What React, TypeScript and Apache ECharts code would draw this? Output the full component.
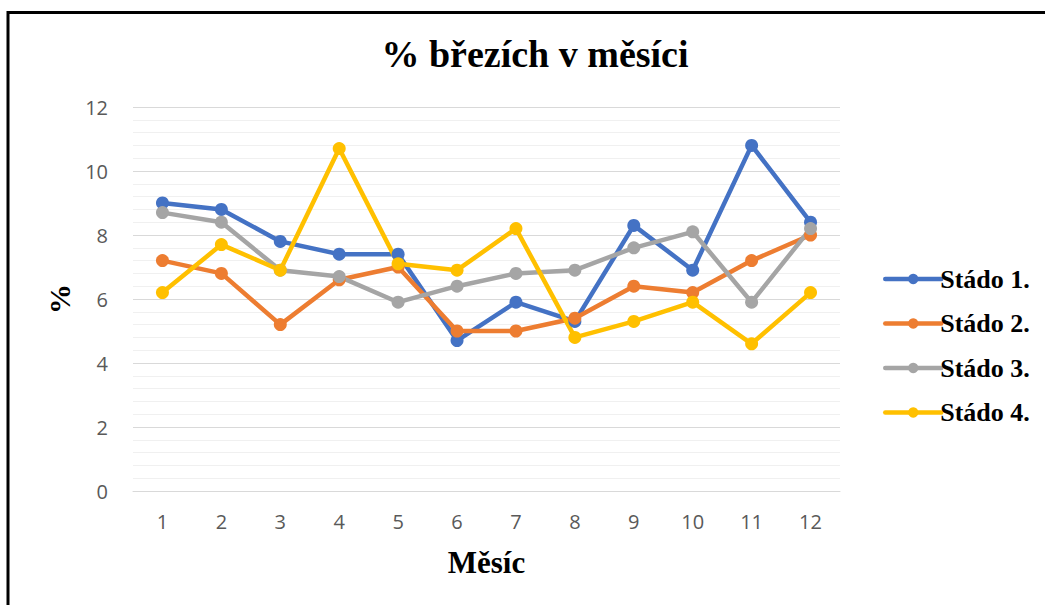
import React, { useEffect, useRef } from "react";
import * as echarts from "echarts";

const months = ["1", "2", "3", "4", "5", "6", "7", "8", "9", "10", "11", "12"];
const stado1 = [9.0, 8.8, 7.8, 7.4, 7.4, 4.7, 5.9, 5.3, 8.3, 6.9, 10.8, 8.4];
const stado2 = [7.2, 6.8, 5.2, 6.6, 7.0, 5.0, 5.0, 5.4, 6.4, 6.2, 7.2, 8.0];
const stado3 = [8.7, 8.4, 6.9, 6.7, 5.9, 6.4, 6.8, 6.9, 7.6, 8.1, 5.9, 8.2];
const stado4 = [6.2, 7.7, 6.9, 10.7, 7.1, 6.9, 8.2, 4.8, 5.3, 5.9, 4.6, 6.2];
const seriesNames = ["Stádo 1.", "Stádo 2.", "Stádo 3.", "Stádo 4."];
const colors = ["#4472c4", "#ed7d31", "#a5a5a5", "#ffc000"];

export default function App() {
  const ref = useRef<HTMLDivElement>(null);
  useEffect(() => {
    if (!ref.current) return;
    const chart = echarts.init(ref.current, null, { renderer: "svg" });
    const datasets = [stado1, stado2, stado3, stado4];
    chart.setOption({
      animation: false,
      backgroundColor: "#ffffff",
      title: {
        text: "% březích v měsíci",
        left: 530,
        textAlign: "center",
        top: 30,
        textStyle: {
          fontFamily: "Liberation Serif",
          fontWeight: "bold",
          fontSize: 38,
          color: "#000",
        },
      },
      legend: {
        orient: "vertical",
        left: 878,
        top: 260,
        itemWidth: 56,
        itemHeight: 13,
        itemGap: 16.5,
        lineStyle: { width: 4.5, cap: "round" },
        textStyle: {
          fontFamily: "Liberation Serif",
          fontWeight: "bold",
          fontSize: 26,
          lineHeight: 28,
          color: "#000",
          padding: [0, 0, 0, -6],
        },
        data: seriesNames,
      },
      grid: { left: 133, right: 205, top: 107, bottom: 114 },
      xAxis: {
        type: "category",
        data: months,
        boundaryGap: true,
        name: "Měsíc",
        nameLocation: "middle",
        nameGap: 56,
        nameTextStyle: {
          fontFamily: "Liberation Serif",
          fontWeight: "bold",
          fontSize: 31,
          color: "#000",
        },
        axisLine: { show: true, lineStyle: { color: "#d9d9d9", width: 1 } },
        axisTick: { show: false },
        axisLabel: { color: "#595959", fontSize: 20, fontFamily: "Open Sans", margin: 20 },
      },
      yAxis: {
        type: "value",
        min: 0,
        max: 12,
        interval: 2,
        name: "%",
        nameLocation: "middle",
        nameGap: 58,
        nameRotate: 90,
        nameTextStyle: {
          fontFamily: "Liberation Serif",
          fontWeight: "bold",
          fontSize: 30,
          color: "#000",
        },
        axisLine: { show: false },
        axisTick: { show: false },
        axisLabel: { color: "#595959", fontSize: 20, fontFamily: "Open Sans", margin: 25 },
        splitLine: { show: true, lineStyle: { color: "#d9d9d9", width: 1 } },
        minorTick: { show: false, splitNumber: 5 },
        minorSplitLine: { show: true, lineStyle: { color: "#f0f0f0", width: 1 } },
      },
      graphic: [
        { type: "line", shape: { x1: 8, y1: 12.5, x2: 1045, y2: 12.5 }, style: { stroke: "#000", lineWidth: 3 } },
        { type: "line", shape: { x1: 8, y1: 11, x2: 8, y2: 605 }, style: { stroke: "#000", lineWidth: 3 } },
      ],
      series: datasets.map((d, i) => ({
        name: seriesNames[i],
        type: "line",
        data: d,
        symbol: "circle",
        symbolSize: 13,
        lineStyle: { width: 4.5, color: colors[i] },
        itemStyle: { color: colors[i] },
      })),
    });
    return () => chart.dispose();
  }, []);
  return <div ref={ref} style={{ position: "fixed", left: 0, top: 0, width: 1045, height: 605 }} />;
}
